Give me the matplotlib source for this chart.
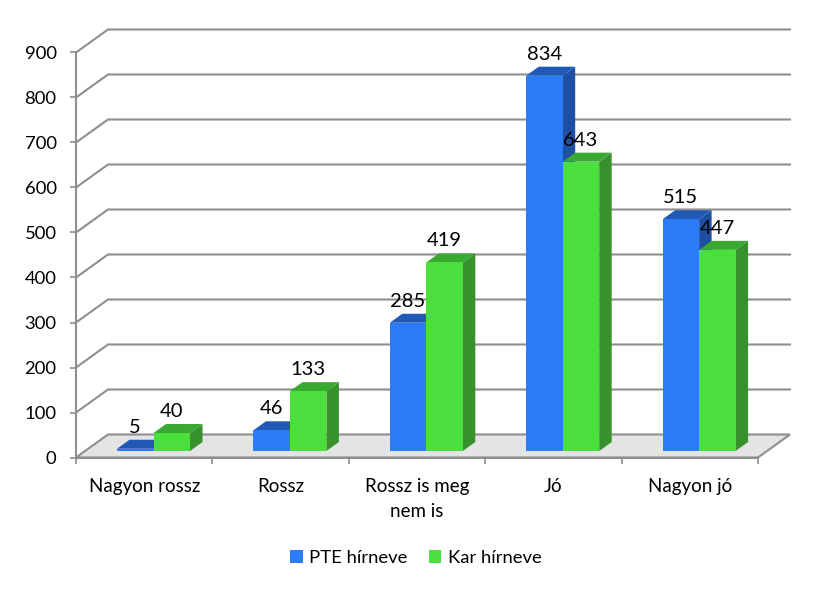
"""
PTE / Kar hírneve - álló 3D oszlopdiagram, síkban rajzolva
"""
import matplotlib
matplotlib.use("Agg")
import matplotlib.pyplot as plt
from matplotlib.patches import Polygon, Patch

plt.rcParams['font.family'] = ['Lato', 'DejaVu Sans']

categories = ["Nagyon rossz", "Rossz", "Rossz is meg\nnem is", "Jó", "Nagyon jó"]
pte_values = [5, 46, 285, 834, 515]
kar_values = [40, 133, 419, 643, 447]
y_ticks = [0, 100, 200, 300, 400, 500, 600, 700, 800, 900]

GRID = "#8e8e8e"
TEXT = "#000000"
BLUE = ("#2b7cf6", "#2059b6", "#1e4fa3")   # front, top, side
GREEN = ("#4bdf3e", "#3aa932", "#37922d")

# fal mélysége adategységben (x: kategória, y: érték)
PX_Y = 0.45
PX_X = 136.4
DEPTH_X = 32 / PX_X
DEPTH_Y = 23 / PX_Y
BAR_W = 36.5 / PX_X
BAR_OFF_X = 9.3 / PX_X
BAR_OFF_Y = 6.5 / PX_Y
BAR_DX = 12.5 / PX_X
BAR_DY = 9 / PX_Y


def draw_bar(ax, left, value, colors, z):
    x0, x1 = left, left + BAR_W
    y0, y1 = BAR_OFF_Y, BAR_OFF_Y + value
    front, top, side = colors
    ax.add_patch(Polygon([(x1, y0), (x1 + BAR_DX, y0 + BAR_DY), (x1 + BAR_DX, y1 + BAR_DY), (x1, y1)],
                         fc=side, ec="none", zorder=z, clip_on=False))
    ax.add_patch(Polygon([(x0, y1), (x1, y1), (x1 + BAR_DX, y1 + BAR_DY), (x0 + BAR_DX, y1 + BAR_DY)],
                         fc=top, ec="none", zorder=z, clip_on=False))
    ax.add_patch(Polygon([(x0, y0), (x1, y0), (x1, y1), (x0, y1)],
                         fc=front, ec="none", zorder=z + 0.1, clip_on=False))
    ax.text(left + BAR_W / 2, y1 + 21.5 / PX_Y, str(value), ha="center", va="center",
            fontsize=14.5, color=TEXT, zorder=20)


def main():
    fig = plt.figure(figsize=(8.27, 5.89), dpi=100)
    ax = fig.add_axes([76 / 827, 1 - 457.5 / 589, 682 / 827, 405 / 589])
    n = len(categories)
    ax.set_xlim(0, n)
    ax.set_ylim(0, 900)

    # padló
    ax.add_patch(Polygon([(0, 0), (n, 0), (n + DEPTH_X, DEPTH_Y), (DEPTH_X, DEPTH_Y)],
                         fc="#e4e4e4", ec=GRID, lw=1.5, zorder=1, clip_on=False))
    # rácsvonalak a hátsó falon + átlók az oldalfalon
    for t in y_ticks[1:]:
        ax.plot([0, DEPTH_X, n + DEPTH_X], [t, t + DEPTH_Y, t + DEPTH_Y], color=GRID, lw=1.5,
                zorder=2, clip_on=False, solid_joinstyle="miter")

    for i in range(n):
        boundary = i + 0.5 + BAR_OFF_X
        draw_bar(ax, boundary - BAR_W, pte_values[i], BLUE, 3 + i)
        draw_bar(ax, boundary, kar_values[i], GREEN, 3.5 + i)

    for s in ("top", "right"):
        ax.spines[s].set_visible(False)
    for s in ("left", "bottom"):
        ax.spines[s].set_color(GRID)
        ax.spines[s].set_linewidth(1.5)
        ax.spines[s].set_zorder(2.5)

    ax.set_yticks(y_ticks)
    ax.tick_params(axis="y", length=4.5, width=1.2, color=GRID, labelsize=13.3, labelcolor=TEXT, pad=9.5)
    ax.set_xticks(range(n + 1))
    ax.set_xticklabels([])
    ax.tick_params(axis="x", which="major", length=4.5, width=1.2, color=GRID)
    ax.set_xticks([i + 0.5 for i in range(n)], minor=True)
    ax.set_xticklabels(categories, minor=True, fontsize=13.5, color=TEXT, linespacing=1.55)
    ax.tick_params(axis="x", which="minor", length=0, pad=15)

    handles = [Patch(fc=BLUE[0], label="PTE hírneve"), Patch(fc=GREEN[0], label="Kar hírneve")]
    fig.legend(handles=handles, loc="center", bbox_to_anchor=(416 / 827, 1 - 558 / 589), ncol=2,
               frameon=False, fontsize=13.3, handlelength=0.68, handleheight=0.68,
               handletextpad=0.35, columnspacing=1.15)

    fig.savefig("out.png", dpi=100)


if __name__ == "__main__":
    main()
